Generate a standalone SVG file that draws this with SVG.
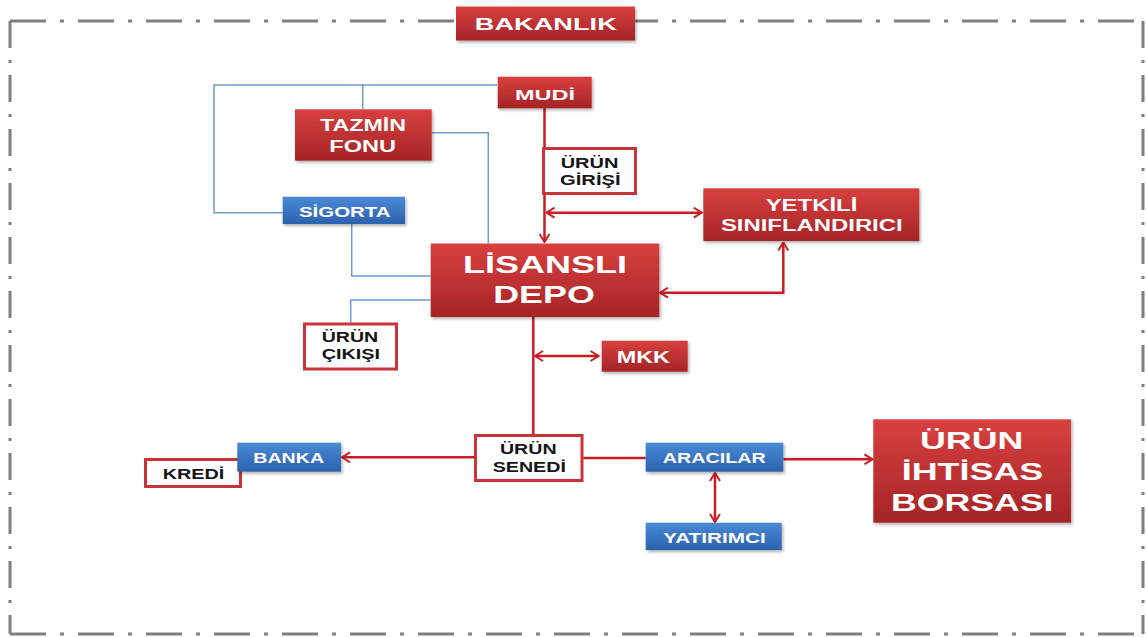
<svg xmlns="http://www.w3.org/2000/svg" width="1146" height="637" viewBox="0 0 1146 637">
<defs>
<linearGradient id="gr" x1="0" y1="0" x2="0" y2="1">
<stop offset="0" stop-color="#d8403f"/>
<stop offset="1" stop-color="#a52426"/>
</linearGradient>
<linearGradient id="gb" x1="0" y1="0" x2="0" y2="1">
<stop offset="0" stop-color="#4a8ad6"/>
<stop offset="1" stop-color="#2b61ad"/>
</linearGradient>
<filter id="sh" x="-10%" y="-10%" width="125%" height="135%">
<feDropShadow dx="1.5" dy="2" stdDeviation="1.5" flood-color="#000" flood-opacity="0.3"/>
</filter>
<marker id="ah" viewBox="0 0 10 12" refX="9" refY="6" markerWidth="10" markerHeight="12" markerUnits="userSpaceOnUse" orient="auto-start-reverse">
<path d="M1,1 L9,6 L1,11" fill="none" stroke="#c91d24" stroke-width="2"/>
</marker>
</defs>
<style>
.red{fill:url(#gr);filter:url(#sh)}
.blue{fill:url(#gb);filter:url(#sh)}
.wht{fill:#fff;stroke:#c8343a;stroke-width:3}
.tw{font-family:"Liberation Sans",Arial,sans-serif;font-weight:bold;fill:#fff;text-anchor:middle}
.tb{font-family:"Liberation Sans",Arial,sans-serif;font-weight:bold;fill:#151515;text-anchor:middle}
.bl{fill:none;stroke:#7099cc;stroke-width:1.5}
.rl{fill:none;stroke:#c91d24;stroke-width:2.5}
.bh{fill:none;stroke:#7f7f7f;stroke-width:3;stroke-dasharray:36 14 4 14}
.bv{fill:none;stroke:#7f7f7f;stroke-width:3;stroke-dasharray:27 12 3 12}
</style>
<rect width="1146" height="637" fill="#fff"/>
<g id="border">
<line class="bh" x1="10" y1="21" x2="1143" y2="21"/>
<line class="bh" x1="10" y1="634" x2="1143" y2="634"/>
<line class="bv" x1="10" y1="21" x2="10" y2="634"/>
<line class="bv" x1="1143" y1="21" x2="1143" y2="634"/>
</g>
<g id="connectors">
<path class="bl" d="M497,85 H214 V212.7 H282.7"/>
<path class="bl" d="M362.7,85 V109.3"/>
<path class="bl" d="M431.7,132.7 H488.3 V243.3"/>
<path class="bl" d="M351.7,224 V276 H430.7"/>
<path class="bl" d="M430.7,300 H350.7 V322.7"/>
<path class="rl" d="M544.5,108 V242" marker-end="url(#ah)"/>
<path class="rl" d="M546.5,212.7 H701.7" marker-start="url(#ah)" marker-end="url(#ah)"/>
<path class="rl" d="M660,292.7 H783.3 V242.5" marker-start="url(#ah)" marker-end="url(#ah)"/>
<path class="rl" d="M533.3,317 V434"/>
<path class="rl" d="M535,356 H598.5" marker-start="url(#ah)" marker-end="url(#ah)"/>
<path class="rl" d="M474,457.3 H342" marker-end="url(#ah)"/>
<path class="rl" d="M583.3,458 H645.7"/>
<path class="rl" d="M783.3,459.3 H872.5" marker-end="url(#ah)"/>
<path class="rl" d="M715,473 V522" marker-start="url(#ah)" marker-end="url(#ah)"/>
</g>
<g id="bakanlik">
<rect class="red" x="456" y="6.5" width="179" height="34"/>
<text class="tw" x="545.8" y="29.5" font-size="17" textLength="142" lengthAdjust="spacingAndGlyphs">BAKANLIK</text>
</g>
<g id="mudi">
<rect class="red" x="497.7" y="76.7" width="94" height="31.6"/>
<text class="tw" x="545" y="99.5" font-size="15" textLength="60" lengthAdjust="spacingAndGlyphs">MUDİ</text>
</g>
<g id="tazmin">
<rect class="red" x="295" y="109.3" width="136.7" height="51.4"/>
<text class="tw" x="363" y="130.7" font-size="16" textLength="86" lengthAdjust="spacingAndGlyphs">TAZMİN</text>
<text class="tw" x="362.7" y="151.7" font-size="16" textLength="66.7" lengthAdjust="spacingAndGlyphs">FONU</text>
</g>
<g id="sigorta">
<rect class="blue" x="282.7" y="196.7" width="122.3" height="27.3"/>
<text class="tw" x="344.8" y="216.7" font-size="15" textLength="91.7" lengthAdjust="spacingAndGlyphs">SİGORTA</text>
</g>
<g id="urun-girisi">
<rect class="wht" x="543.5" y="148.5" width="92" height="45"/>
<text class="tb" x="589.5" y="167.8" font-size="14" textLength="57.7" lengthAdjust="spacingAndGlyphs">ÜRÜN</text>
<text class="tb" x="590.3" y="185.2" font-size="14" textLength="60.7" lengthAdjust="spacingAndGlyphs">GİRİŞİ</text>
</g>
<g id="yetkili">
<rect class="red" x="703.3" y="188.3" width="216" height="52.7"/>
<text class="tw" x="811.5" y="210.7" font-size="16" textLength="91.6" lengthAdjust="spacingAndGlyphs">YETKİLİ</text>
<text class="tw" x="811.8" y="230.7" font-size="16" textLength="181.7" lengthAdjust="spacingAndGlyphs">SINIFLANDIRICI</text>
</g>
<g id="lisansli-depo">
<rect class="red" x="430.7" y="243.5" width="228.6" height="73.5"/>
<text class="tw" x="545" y="273.3" font-size="23" textLength="164" lengthAdjust="spacingAndGlyphs">LİSANSLI</text>
<text class="tw" x="544" y="303.3" font-size="23" textLength="101.7" lengthAdjust="spacingAndGlyphs">DEPO</text>
</g>
<g id="urun-cikisi">
<rect class="wht" x="304.5" y="324" width="92" height="45"/>
<text class="tb" x="350" y="342.3" font-size="14" textLength="56.6" lengthAdjust="spacingAndGlyphs">ÜRÜN</text>
<text class="tb" x="350.8" y="358.6" font-size="14" textLength="58.3" lengthAdjust="spacingAndGlyphs">ÇIKIŞI</text>
</g>
<g id="mkk">
<rect class="red" x="601.7" y="340.7" width="86" height="31"/>
<text class="tw" x="643.3" y="362.7" font-size="17" textLength="53.3" lengthAdjust="spacingAndGlyphs">MKK</text>
</g>
<g id="kredi">
<rect class="wht" x="145.5" y="459.5" width="95" height="27"/>
<text class="tb" x="193.5" y="479" font-size="15" textLength="61.6" lengthAdjust="spacingAndGlyphs">KREDİ</text>
</g>
<g id="banka">
<rect class="blue" x="237.3" y="442.7" width="103.7" height="29"/>
<text class="tw" x="288.7" y="463.3" font-size="15" textLength="70.7" lengthAdjust="spacingAndGlyphs">BANKA</text>
</g>
<g id="urun-senedi">
<rect class="wht" x="475.5" y="435.5" width="106.5" height="45"/>
<text class="tb" x="528.3" y="454" font-size="15" textLength="56.7" lengthAdjust="spacingAndGlyphs">ÜRÜN</text>
<text class="tb" x="529.3" y="471.7" font-size="15" textLength="73.3" lengthAdjust="spacingAndGlyphs">SENEDİ</text>
</g>
<g id="aracilar">
<rect class="blue" x="645.7" y="442.7" width="137.6" height="29"/>
<text class="tw" x="714.2" y="462.7" font-size="14" textLength="103" lengthAdjust="spacingAndGlyphs">ARACILAR</text>
</g>
<g id="yatirimci">
<rect class="blue" x="645.7" y="522.7" width="136" height="27.3"/>
<text class="tw" x="714.5" y="542.7" font-size="14" textLength="102.4" lengthAdjust="spacingAndGlyphs">YATIRIMCI</text>
</g>
<g id="borsa">
<rect class="red" x="873.3" y="419.3" width="197.7" height="103.4"/>
<text class="tw" x="971.7" y="449.3" font-size="24" textLength="103.3" lengthAdjust="spacingAndGlyphs">ÜRÜN</text>
<text class="tw" x="972.5" y="480" font-size="24" textLength="141.6" lengthAdjust="spacingAndGlyphs">İHTİSAS</text>
<text class="tw" x="972.2" y="510.7" font-size="24" textLength="162.3" lengthAdjust="spacingAndGlyphs">BORSASI</text>
</g>
</svg>
